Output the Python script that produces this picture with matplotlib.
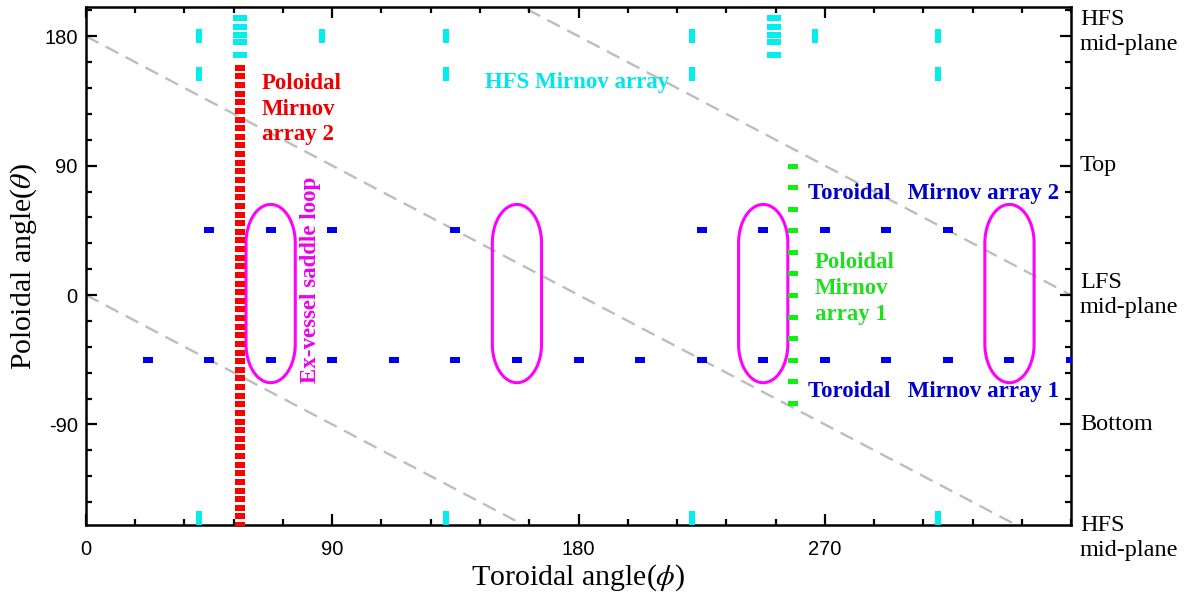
import matplotlib
matplotlib.use('Agg')
import matplotlib.pyplot as plt
import numpy as np
from matplotlib.path import Path
from matplotlib.patches import PathPatch
from matplotlib.ticker import MultipleLocator
import matplotlib.transforms as mtransforms

plt.rcParams['mathtext.fontset'] = 'stix'
plt.rcParams['axes.unicode_minus'] = False

# ---- sensor positions (toroidal angle phi, poloidal angle theta), degrees ----
# HFS Mirnov array: single coils (vertical marks)
hfs_phi = [41.3, 41.3, 41.3, 131.4, 131.4, 131.4, 221.3, 221.3, 221.3, 311.4, 311.4, 311.4, 86.2, 266.4]
hfs_theta = [180, 154, -155, 180, 154, -155, 180, 154, -155, 180, 154, -155, 180, 180]
# HFS clusters (horizontal marks)
hfs_cluster_phi = [56.3, 251.6]
hfs_cluster_theta = [192.5, 186.5, 181, 176, 167]

# Poloidal Mirnov array 2 (red)
pol2_phi = 56.3
pol2_theta = list(range(158, -161, -6))

# Poloidal Mirnov array 1 (green)
pol1_phi = 258.3
pol1_theta = [90, 75, 60, 45, 30, 15, 0, -15, -30, -45, -60, -75]

# Toroidal Mirnov arrays (blue)
tor1_theta = -45
tor1_phi = [22.5, 45, 67.5, 90, 112.5, 135, 157.5, 180, 202.5, 225, 247.5, 270, 292.5, 315, 337.5, 360]
tor2_theta = 45
tor2_phi = [45, 67.5, 90, 135, 225, 247.5, 270, 292.5, 315]

# Ex-vessel saddle loops
saddle_phi = [67.5, 157.5, 247.5, 337.5]
saddle_half_width = 9
saddle_theta_range = (-61, 63)
saddle_end = 27

# field-line guides: theta = -phi + c
guide_offsets = [0, 180, 360]

x_ticks = [0, 90, 180, 270]
y_ticks = [-90, 0, 90, 180]
right_labels = ['HFS\nmid-plane', 'Top', 'LFS\nmid-plane', 'Bottom', 'HFS\nmid-plane']
right_label_theta = [183, 90, 0, -90, -169]


def rect_marker(aspect):
    # rectangle marker: width 1, height aspect (normalised by matplotlib)
    h = aspect / 2
    return Path([(-0.5, -h), (0.5, -h), (0.5, h), (-0.5, h), (-0.5, -h)],
                [Path.MOVETO, Path.LINETO, Path.LINETO, Path.LINETO, Path.CLOSEPOLY])


def vrect_marker(aspect):
    w = aspect / 2
    return Path([(-w, -0.5), (w, -0.5), (w, 0.5), (-w, 0.5), (-w, -0.5)],
                [Path.MOVETO, Path.LINETO, Path.LINETO, Path.LINETO, Path.CLOSEPOLY])


def stadium(phi_c, hw, t0, t1, h):
    t = np.linspace(0, np.pi, 60)
    top_x = phi_c + hw * np.cos(t)
    top_y = (t1 - h) + h * np.sin(t)
    bot_x = phi_c - hw * np.cos(t)
    bot_y = (t0 + h) - h * np.sin(t)
    xs = np.concatenate([top_x, bot_x, top_x[:1]])
    ys = np.concatenate([top_y, bot_y, top_y[:1]])
    return Path(np.column_stack([xs, ys]))


fig = plt.figure(figsize=(11.84, 5.99), dpi=100)
ax = fig.add_axes([0.0726, 0.1235, 0.832, 0.864])
ax.set_xlim(0, 360)
ax.set_ylim(-160, 200)

# guide lines
phi_line = np.array([0, 360])
for c in guide_offsets:
    ax.plot(phi_line, -phi_line + c, color='#bdbdbd', lw=1.7, ls=(0, (6, 3.5)), zorder=1)

# saddle loops
for pc in saddle_phi:
    ax.add_patch(PathPatch(stadium(pc, saddle_half_width, *saddle_theta_range, saddle_end),
                           fill=False, edgecolor='#ff00ff', lw=2.2, zorder=3))

# red poloidal array 2
ax.plot([pol2_phi] * len(pol2_theta), pol2_theta, ls='none', marker=rect_marker(0.5),
        ms=7.4, mew=0, color='#ff0000', zorder=4)

# green poloidal array 1
ax.plot([pol1_phi] * len(pol1_theta), pol1_theta, ls='none', marker=rect_marker(0.5),
        ms=7.2, mew=0, color='#11ee11', zorder=4)

# blue toroidal arrays
ax.plot(tor1_phi, [tor1_theta] * len(tor1_phi), ls='none', marker=rect_marker(0.55),
        ms=7.9, mew=0, color='#0000ee', zorder=4)
ax.plot(tor2_phi, [tor2_theta] * len(tor2_phi), ls='none', marker=rect_marker(0.55),
        ms=7.9, mew=0, color='#0000ee', zorder=4)

# HFS array
ax.plot(hfs_phi, hfs_theta, ls='none', marker=vrect_marker(0.4),
        ms=9.6, mew=0, color='#00eeee', zorder=4)
for pc in hfs_cluster_phi:
    ax.plot([pc] * len(hfs_cluster_theta), hfs_cluster_theta, ls='none',
            marker=rect_marker(0.5), ms=9.4, mew=0, color='#00eeee', zorder=4)

# annotations
serif = 'Liberation Serif'
fs = 16.5
ax.text(64.3, 154.5, 'Poloidal\nMirnov\narray 2', color='#ee0000', fontsize=fs,
        fontweight='bold', family=serif, ha='left', va='top', linespacing=1.3)
ax.text(145.8, 147.5, 'HFS Mirnov array', color='#00e5ee', fontsize=fs,
        fontweight='bold', family=serif, ha='left', va='center')
ax.text(81.9, 10.5, 'Ex-vessel saddle loop', color='#ee00ee', fontsize=fs,
        fontweight='bold', family=serif, ha='center', va='center', rotation=90)
ax.text(263.8, 70.3, 'Toroidal   Mirnov array 2', color='#0000cc', fontsize=fs,
        fontweight='bold', family=serif, ha='left', va='center')
ax.text(263.8, -67.2, 'Toroidal   Mirnov array 1', color='#0000cc', fontsize=fs,
        fontweight='bold', family=serif, ha='left', va='center')
ax.text(266.4, 4.7, 'Poloidal\nMirnov\narray 1', color='#22dd22', fontsize=fs,
        fontweight='bold', family=serif, ha='left', va='center', linespacing=1.3)

# right-hand labels
trans = mtransforms.blended_transform_factory(ax.transAxes, ax.transData)
for lab, th in zip(right_labels, right_label_theta):
    ax.text(1.009, th, lab, transform=trans, fontsize=17.5, family=serif,
            ha='left', va='center', linespacing=1.2)

# axes styling
ax.set_xticks(x_ticks)
ax.xaxis.set_minor_locator(MultipleLocator(18))
ax.set_yticks(y_ticks)
ax.yaxis.set_minor_locator(MultipleLocator(18))
ax.tick_params(which='both', direction='in', top=True, right=True, width=1.6)
ax.tick_params(which='major', length=8)
ax.tick_params(which='minor', length=4.5)
ax.tick_params(axis='x', which='major', pad=11)
ax.tick_params(axis='y', which='major', pad=6)
for lab in ax.get_xticklabels() + ax.get_yticklabels():
    lab.set_fontfamily('Liberation Sans')
    lab.set_fontsize(14.5)
for s in ax.spines.values():
    s.set_linewidth(1.8)

ax.set_xlabel(r'Toroidal angle($\phi$)', fontsize=21.5, family=serif, labelpad=2)
ax.set_ylabel(r'Poloidal angle($\theta$)', fontsize=21.5, family=serif, labelpad=4)

fig.savefig('out.png', dpi=100)
